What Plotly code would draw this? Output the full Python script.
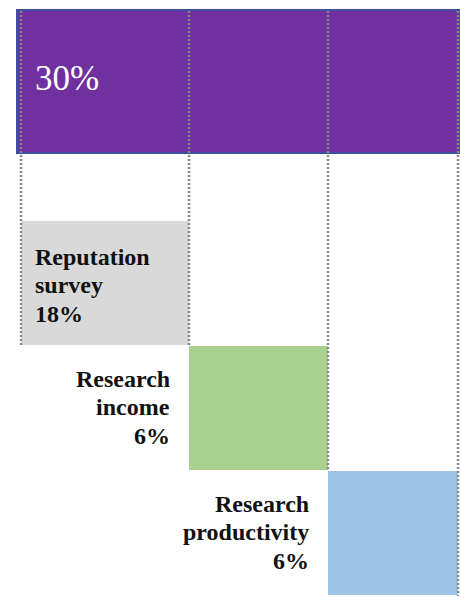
import plotly.graph_objects as go

# ---- data ----
total_label = "30%"
total_weight = 30
components = [["Reputation", "survey"], ["Research", "income"], ["Research", "productivity"]]
weights = [18, 6, 6]
colors = ["#d9d9d9", "#a9d18e", "#9dc3e6"]
total_color = "#7030a0"

# ---- layout grid (axis units = pixels) ----
col_edges = [21, 189, 328, 458]
top_y = 10
top_h = 143
gap = 68
row_h = 125
line_gap = 28.5

W, H = 461, 597

fig = go.Figure()

fig.add_trace(go.Bar(
    x=[(col_edges[0] - 4 + col_edges[-1] + 1) / 2], y=[top_h], base=[top_y],
    width=[col_edges[-1] + 1 - (col_edges[0] - 4)],
    marker=dict(color=total_color, line=dict(color="#3d4f9f", width=2)),
    hoverinfo="skip", showlegend=False,
))

row_tops = []
for i, (name, w, c) in enumerate(zip(components, weights, colors)):
    y0 = top_y + top_h + gap + i * row_h
    row_tops.append(y0)
    x0, x1 = col_edges[i], col_edges[i + 1]
    fig.add_trace(go.Bar(
        x=[(x0 + x1) / 2], y=[row_h - 1], base=[y0], width=[x1 - x0],
        marker=dict(color=c, line=dict(width=0)),
        hoverinfo="skip", showlegend=False,
    ))

line_ends = [row_tops[0] + row_h, row_tops[0] + row_h, row_tops[1] + row_h, row_tops[2] + row_h]
for xe, ye in zip(col_edges, line_ends):
    fig.add_shape(type="line", x0=xe, x1=xe, y0=top_y + 1, y1=ye,
                  line=dict(color="#888888", width=2.5, dash="2px,2px"), layer="above")

serif = "Liberation Serif, Times New Roman, serif"

fig.add_annotation(x=33, y=top_y + 68, text=total_label, showarrow=False,
                   xanchor="left", yanchor="middle",
                   font=dict(family=serif, size=35, color="white"))

for i, (words, w) in enumerate(zip(components, weights)):
    lines = words + [f"{w}%"]
    if i == 0:
        xa, anchor, center = col_edges[0] + 12, "left", row_tops[0] + 64
    else:
        xa, anchor, center = col_edges[i] - 17, "right", row_tops[i] + 61
    for k, ln in enumerate(lines):
        fig.add_annotation(x=xa, y=center + (k - 1) * line_gap,
                           text=f"<b>{ln}</b>", showarrow=False,
                           xanchor=anchor, yanchor="middle", align=anchor,
                           font=dict(family=serif, size=24, color="#111"))

fig.update_layout(
    width=W, height=H,
    margin=dict(l=0, r=0, t=0, b=0),
    paper_bgcolor="white", plot_bgcolor="white",
    barmode="overlay", bargap=0,
    xaxis=dict(range=[0, W], visible=False, fixedrange=True),
    yaxis=dict(range=[H, 0], visible=False, fixedrange=True),
)

fig.write_html("out.html", config={"displayModeBar": False},
               post_script="document.body.style.margin='0';document.body.style.overflow='hidden';")
